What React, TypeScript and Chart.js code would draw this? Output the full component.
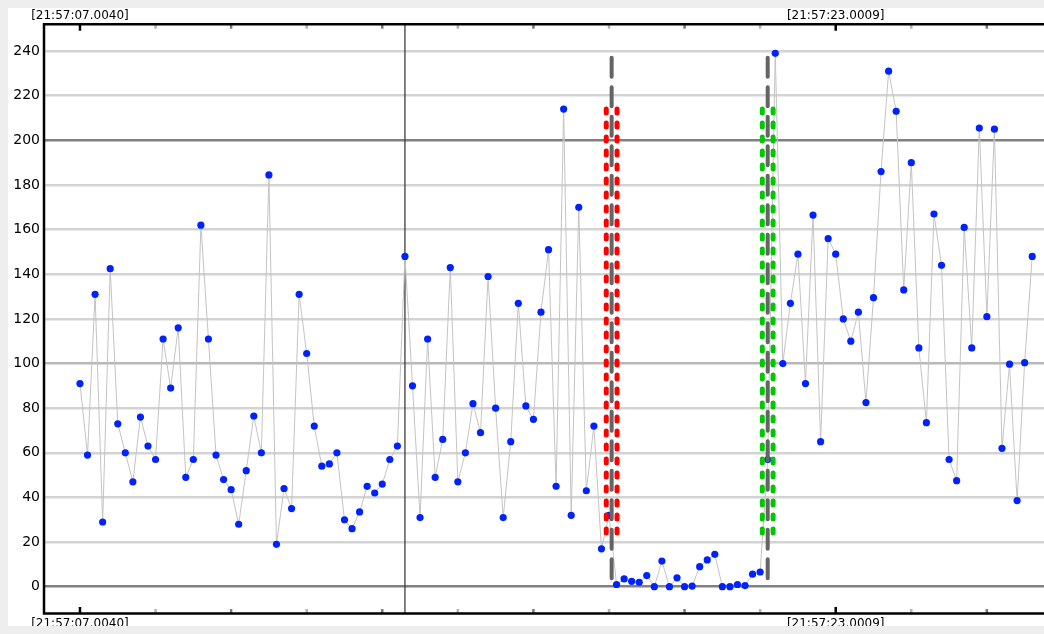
import React, { useEffect, useRef } from 'react';
import { Chart, registerables } from 'chart.js';

Chart.register(...registerables);

// ---- data ----
const values: number[] = [
  91, 59, 131, 29, 142.5, 73, 60, 47, 76, 63,
  57, 111, 89, 116, 49, 57, 162, 111, 59, 48,
  43.5, 28, 52, 76.5, 60, 184.5, 19, 44, 35, 131,
  104.5, 72, 54, 55, 60, 30, 26, 33.5, 45, 42,
  46, 57, 63, 148, 90, 31, 111, 49, 66, 143,
  47, 60, 82, 69, 139, 80, 31, 65, 127, 81,
  75, 123, 151, 45, 214, 32, 170, 43, 72, 17,
  32, 1, 3.5, 2.4, 2, 5, 0, 11.5, 0, 4,
  0, 0.3, 9, 12, 14.5, 0, 0, 1, 0.5, 5.6,
  6.6, 57, 239, 100, 127, 149, 91, 166.5, 65, 156,
  149, 120, 110, 123, 82.5, 129.5, 186, 231, 213, 133,
  190, 107, 73.5, 167, 144, 57, 47.5, 161, 107, 205.5,
  121, 205, 62, 99.7, 38.6, 100.4, 148,
];

const yTicks: number[] = [0, 20, 40, 60, 80, 100, 120, 140, 160, 180, 200, 220, 240];
const xTicks: number[] = [0, 10, 20, 30, 40, 50, 60, 70, 80, 90, 100, 110, 120];
const xMajorTicks: number[] = [0, 100];
const xMajorLabels: string[] = ['[21:57:07.0040]', '[21:57:23.0009]'];

const cursorIndex = 43;
const markerStart = 70.35;
const markerEnd = 91;
const markerSide = 0.715;
const dashTop = 237;
const dashBottom = 0;
const boxTop = 214;
const boxBottom = 24;

const X_MIN = -4.76;
const X_MAX = 127.56;
const Y_MIN = -12;
const Y_MAX = 252;

const framePlugin = {
  id: 'frame',
  beforeDraw(chart: any) {
    const { ctx } = chart;
    ctx.save();
    ctx.fillStyle = '#ffffff';
    ctx.fillRect(0, 0, chart.width, chart.height);
    ctx.restore();
  },
  afterDraw(chart: any) {
    const { ctx, chartArea: a, scales } = chart;
    const xs = scales.x;
    ctx.save();
    ctx.lineCap = 'butt';
    xTicks.forEach((v) => {
      const px = xs.getPixelForValue(v);
      const major = xMajorTicks.includes(v);
      const color = major ? '#000000' : ((v / 10) % 2 === 1 ? '#b4b4b4' : '#7a7a7a');
      const len = major ? 6.5 : 4.5;
      ctx.strokeStyle = color;
      ctx.lineWidth = 2.5;
      ctx.beginPath();
      ctx.moveTo(px, a.top);
      ctx.lineTo(px, a.top + len);
      ctx.moveTo(px, a.bottom);
      ctx.lineTo(px, a.bottom - len);
      ctx.stroke();
    });
    ctx.strokeStyle = '#000000';
    ctx.lineWidth = 2.5;
    ctx.beginPath();
    ctx.moveTo(chart.width, a.top);
    ctx.lineTo(a.left, a.top);
    ctx.lineTo(a.left, a.bottom);
    ctx.lineTo(chart.width, a.bottom);
    ctx.stroke();

    ctx.font = '12px "DejaVu Sans"';
    ctx.fillStyle = '#000000';
    ctx.textAlign = 'center';
    ctx.textBaseline = 'middle';
    xMajorTicks.forEach((v, i) => {
      const px = xs.getPixelForValue(v);
      ctx.fillText(xMajorLabels[i], px, a.top - 8.5);
      ctx.fillText(xMajorLabels[i], px, a.bottom + 10);
    });
    ctx.restore();
  },
};

function vline(x: number, top: number, bottom: number, color: string, width: number, dash: number[], order: number) {
  return {
    data: [{ x, y: top }, { x, y: bottom }],
    borderColor: color,
    borderWidth: width,
    borderDash: dash,
    borderCapStyle: 'round',
    pointRadius: 0,
    order,
  };
}

export default function App() {
  const ref = useRef<HTMLCanvasElement | null>(null);

  useEffect(() => {
    document.body.style.background = '#eeeeee';
    document.body.style.marginRight = '0px';
    document.documentElement.style.overflow = 'hidden';
    const canvas = ref.current;
    if (!canvas) return;
    const chart = new Chart(canvas, {
      type: 'line',
      data: {
        datasets: [
          vline(markerStart, dashTop, dashBottom, '#646464', 4, [19, 10.5], 0),
          vline(markerEnd, dashTop, dashBottom, '#646464', 4, [19, 10.5], 0),
          vline(markerStart - markerSide, boxTop, boxBottom, '#ff0000', 5, [4, 10], 0),
          vline(markerStart + markerSide, boxTop, boxBottom, '#ff0000', 5, [4, 10], 0),
          vline(markerEnd - markerSide, boxTop, boxBottom, '#00c800', 5, [4, 10], 0),
          vline(markerEnd + markerSide, boxTop, boxBottom, '#00c800', 5, [4, 10], 0),
          {
            data: values.map((v, i) => ({ x: i, y: v })),
            borderColor: '#c4c4c4',
            borderWidth: 1,
            pointRadius: 3.6,
            pointBackgroundColor: '#0022ff',
            pointBorderWidth: 0,
            tension: 0,
            order: 1,
          },
          vline(cursorIndex, Y_MAX, Y_MIN, '#3c3c3c', 1.3, [], 2),
        ] as any,
      },
      options: {
        animation: false,
        responsive: false,
        events: [],
        layout: { autoPadding: false, padding: { top: 16.3, bottom: 12.5, left: 0, right: 0 } },
        plugins: { legend: { display: false }, tooltip: { enabled: false } },
        scales: {
          x: { type: 'linear', min: X_MIN, max: X_MAX, display: false },
          y: {
            type: 'linear',
            min: Y_MIN,
            max: Y_MAX,
            afterFit: (s: any) => {
              s.width = 36;
            },
            afterBuildTicks: (s: any) => {
              s.ticks = yTicks.map((v) => ({ value: v }));
            },
            border: { display: false },
            grid: {
              drawTicks: false,
              lineWidth: 2.5,
              color: (c: any) => {
                const v = c.tick ? c.tick.value : 1;
                if (v === 0 || v === 200) return '#808080';
                if (v === 100) return '#b8b8b8';
                return '#d3d3d3';
              },
            },
            ticks: {
              padding: 4,
              color: '#000000',
              font: { family: 'DejaVu Sans', size: 14 },
            },
          },
        },
      } as any,
      plugins: [framePlugin],
    });
    return () => chart.destroy();
  }, []);

  return <canvas ref={ref} width={1036} height={618} style={{ display: 'block' }} />;
}
